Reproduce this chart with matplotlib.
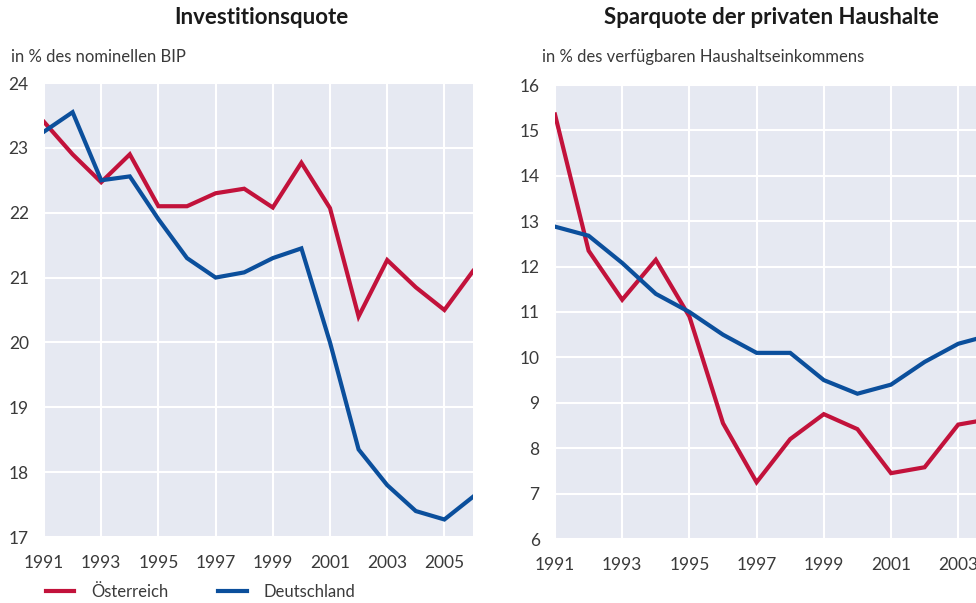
import matplotlib
matplotlib.use("Agg")
import matplotlib.pyplot as plt
from matplotlib.lines import Line2D

years = list(range(1991, 2007))
inv_at = [23.4, 22.9, 22.47, 22.9, 22.1, 22.1, 22.3, 22.37, 22.08, 22.77, 22.07, 20.4, 21.27, 20.85, 20.5, 21.1]
inv_de = [23.25, 23.55, 22.5, 22.56, 21.9, 21.3, 21.0, 21.08, 21.3, 21.45, 20.0, 18.35, 17.8, 17.4, 17.27, 17.62]

spar_years = list(range(1991, 2005))
spar_at = [15.35, 12.35, 11.27, 12.15, 10.9, 8.55, 7.25, 8.2, 8.75, 8.42, 7.45, 7.58, 8.52, 8.65]
spar_de = [12.88, 12.68, 12.08, 11.4, 11.0, 10.5, 10.1, 10.1, 9.5, 9.2, 9.4, 9.9, 10.3, 10.5]

xticks = list(range(1991, 2007, 2))
left_yticks = list(range(17, 25))
right_yticks = list(range(6, 17))

RED = "#C2123B"
BLUE = "#0B4F9C"
BG = "#E6E9F2"
TXT = "#3a3a3a"

plt.rcParams['font.family'] = ['Lato', 'DejaVu Sans']

fig = plt.figure(figsize=(9.76, 6.03), dpi=100)

def style(ax, yt, ylim):
    ax.set_facecolor(BG)
    for s in ax.spines.values():
        s.set_visible(False)
    ax.set_xticks(xticks)
    ax.set_xticklabels([str(x) for x in xticks])
    ax.set_yticks(yt)
    ax.set_xlim(1991, 2006)
    ax.set_ylim(*ylim)
    ax.grid(True, color="white", lw=1.5)
    ax.set_axisbelow(True)
    ax.tick_params(length=0, labelsize=12.5, colors=TXT)
    ax.tick_params(axis='x', pad=13)
    ax.tick_params(axis='y', pad=11)

ax1 = fig.add_axes([44/976, 1-537/603, 429/976, 454/603])
style(ax1, left_yticks, (17, 24))
ax1.plot(years, inv_at, color=RED, lw=3, solid_joinstyle='miter')
ax1.plot(years, inv_de, color=BLUE, lw=3, solid_joinstyle='miter')

ax2 = fig.add_axes([555/976, 1-539/603, 504/976, 454/603])
style(ax2, right_yticks, (6, 16))
ax2.plot(spar_years, spar_at, color=RED, lw=3, solid_joinstyle='miter')
ax2.plot(spar_years, spar_de, color=BLUE, lw=3, solid_joinstyle='miter')

fig.text(261/976, 1-18/603, "Investitionsquote", ha='center', va='center',
         fontsize=16, fontweight='bold', color="#1a1a1a")
fig.text(771/976, 1-18/603, "Sparquote der privaten Haushalte", ha='center', va='center',
         fontsize=16, fontweight='bold', color="#1a1a1a")
fig.text(11/976, 1-57/603, "in % des nominellen BIP", ha='left', va='center',
         fontsize=12, color=TXT)
fig.text(542/976, 1-57/603, "in % des verfügbaren Haushaltseinkommens", ha='left', va='center',
         fontsize=12, color=TXT)

handles = [Line2D([], [], color=RED, lw=3), Line2D([], [], color=BLUE, lw=3)]
leg = fig.legend(handles, ["Österreich", "Deutschland"], loc='center left',
                 bbox_to_anchor=(31/976, 1-592/603), ncol=2, frameon=False,
                 handlelength=1.7, handletextpad=1.0, columnspacing=3.0,
                 labelcolor=TXT, prop={'size': 12})

fig.savefig("out.png", dpi=100)
